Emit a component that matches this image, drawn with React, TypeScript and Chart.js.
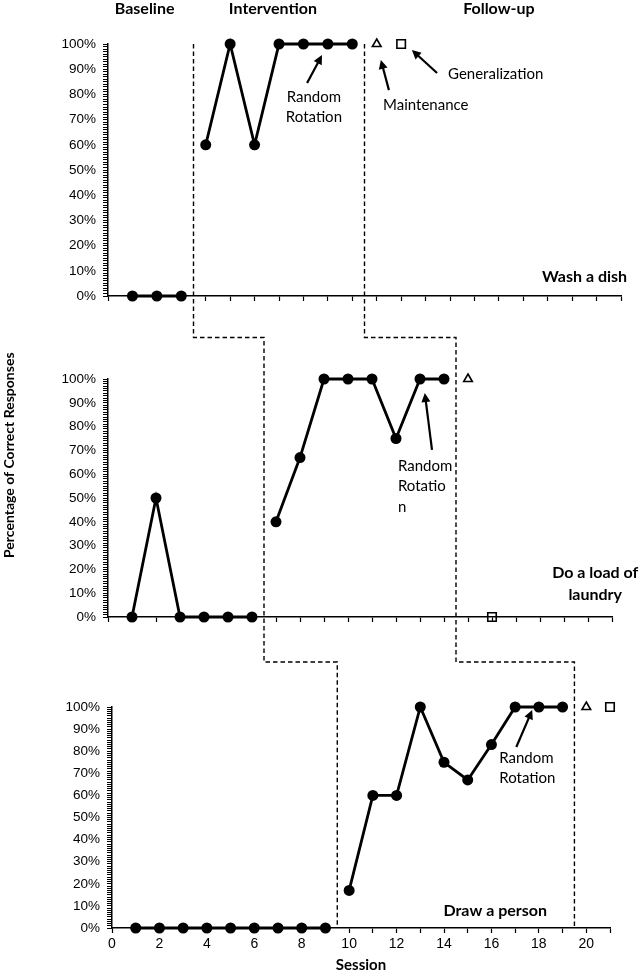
import React, { useEffect, useRef } from 'react';
import { Chart, registerables } from 'chart.js';

Chart.register(...registerables);

// ---------------- data ----------------
const xTickValues = [0, 1, 2, 3, 4, 5, 6, 7, 8, 9, 10, 11, 12, 13, 14, 15, 16, 17, 18, 19, 20, 21];
const xTickLabels = [0, 2, 4, 6, 8, 10, 12, 14, 16, 18, 20];
const yTickLabels = [0, 10, 20, 30, 40, 50, 60, 70, 80, 90, 100];

const dishBaselineSessions = [1, 2, 3];
const dishBaselineValues = [0, 0, 0];
const dishInterventionSessions = [4, 5, 6, 7, 8, 9, 10];
const dishInterventionValues = [60, 100, 60, 100, 100, 100, 100];
const dishMaintenanceSessions = [11];
const dishMaintenanceValues = [100];
const dishGeneralizationSessions = [12];
const dishGeneralizationValues = [100];

const laundryBaselineSessions = [1, 2, 3, 4, 5, 6];
const laundryBaselineValues = [0, 50, 0, 0, 0, 0];
const laundryInterventionSessions = [7, 8, 9, 10, 11, 12, 13, 14];
const laundryInterventionValues = [40, 67, 100, 100, 100, 75, 100, 100];
const laundryMaintenanceSessions = [15];
const laundryMaintenanceValues = [100];
const laundryGeneralizationSessions = [16];
const laundryGeneralizationValues = [0];

const personBaselineSessions = [1, 2, 3, 4, 5, 6, 7, 8, 9];
const personBaselineValues = [0, 0, 0, 0, 0, 0, 0, 0, 0];
const personInterventionSessions = [10, 11, 12, 13, 14, 15, 16, 17, 18, 19];
const personInterventionValues = [17, 60, 60, 100, 75, 67, 83, 100, 100, 100];
const personMaintenanceSessions = [20];
const personMaintenanceValues = [100];
const personGeneralizationSessions = [21];
const personGeneralizationValues = [100];

// phase change lines (between sessions)
const dishPhaseChanges = [3.5, 10.5];
const laundryPhaseChanges = [6.5, 14.5];
const personPhaseChanges = [9.5, 19.5];

const phaseHeaders = ['Baseline', 'Intervention', 'Follow-up'];

// ---------------- layout / style ----------------
const W = 643;
const H = 980;
const TICK_FONT = { family: '"Liberation Sans", Arial, sans-serif', size: 13.5 };
const ANN_FONT = '15px Lato, "Open Sans", sans-serif';
const BOLD_FONT = 'bold 16px Lato, "Open Sans", sans-serif';

type TextAnn = { text: string; x: number; y: number; align: CanvasTextAlign; bold?: boolean };
type ArrowAnn = { x1: number; y1: number; x2: number; y2: number };

interface PanelDef {
  area: { left: number; top: number; right: number; bottom: number };
  baseS: number[]; baseV: number[];
  intS: number[]; intV: number[];
  maintS: number[]; maintV: number[];
  genS: number[]; genV: number[];
  xLabels: boolean;
  xAxisHeight: number;
  texts: TextAnn[];
  arrows: ArrowAnn[];
}

const panels: PanelDef[] = [
  {
    area: { left: 108, top: 44, right: 621, bottom: 296 },
    baseS: dishBaselineSessions, baseV: dishBaselineValues,
    intS: dishInterventionSessions, intV: dishInterventionValues,
    maintS: dishMaintenanceSessions, maintV: dishMaintenanceValues,
    genS: dishGeneralizationSessions, genV: dishGeneralizationValues,
    xLabels: false, xAxisHeight: 10,
    texts: [
      { text: 'Random', x: 8.43, y: 79, align: 'center' },
      { text: 'Rotation', x: 8.43, y: 71, align: 'center' },
      { text: 'Maintenance', x: 11.26, y: 75.8, align: 'left' },
      { text: 'Generalization', x: 13.92, y: 88.1, align: 'left' },
      { text: 'Wash a dish', x: 21.25, y: 7.5, align: 'right', bold: true },
    ],
    arrows: [
      { x1: 8.15, y1: 84.5, x2: 8.76, y2: 95.6 },
      { x1: 11.5, y1: 81.7, x2: 11.17, y2: 93.7 },
      { x1: 13.47, y1: 88.5, x2: 12.44, y2: 97.6 },
    ],
  },
  {
    area: { left: 108, top: 379, right: 612, bottom: 617 },
    baseS: laundryBaselineSessions, baseV: laundryBaselineValues,
    intS: laundryInterventionSessions, intV: laundryInterventionValues,
    maintS: laundryMaintenanceSessions, maintV: laundryMaintenanceValues,
    genS: laundryGeneralizationSessions, genV: laundryGeneralizationValues,
    xLabels: false, xAxisHeight: 10,
    texts: [
      { text: 'Random', x: 12.08, y: 63.4, align: 'left' },
      { text: 'Rotatio', x: 12.08, y: 55.0, align: 'left' },
      { text: 'n', x: 12.08, y: 46.2, align: 'left' },
      { text: 'Do a load of', x: 20.3, y: 18.5, align: 'center', bold: true },
      { text: 'laundry', x: 20.3, y: 9.2, align: 'center', bold: true },
    ],
    arrows: [{ x1: 13.5, y1: 70.2, x2: 13.2, y2: 94.1 }],
  },
  {
    area: { left: 112, top: 707, right: 610, bottom: 928 },
    baseS: personBaselineSessions, baseV: personBaselineValues,
    intS: personInterventionSessions, intV: personInterventionValues,
    maintS: personMaintenanceSessions, maintV: personMaintenanceValues,
    genS: personGeneralizationSessions, genV: personGeneralizationValues,
    xLabels: true, xAxisHeight: 52,
    texts: [
      { text: 'Random', x: 16.33, y: 76.9, align: 'left' },
      { text: 'Rotation', x: 16.33, y: 67.9, align: 'left' },
      { text: 'Draw a person', x: 16.16, y: 7.7, align: 'center', bold: true },
    ],
    arrows: [{ x1: 17.05, y1: 81.9, x2: 17.72, y2: 98.6 }],
  },
];

const Y_AXIS_W = 60;

const pts = (xs: number[], ys: number[]) => xs.map((x, i) => ({ x, y: ys[i] }));

function drawArrow(ctx: CanvasRenderingContext2D, x1: number, y1: number, x2: number, y2: number) {
  const ang = Math.atan2(y2 - y1, x2 - x1);
  const head = 9;
  const hw = 4.5;
  const c = Math.cos(ang);
  const s = Math.sin(ang);
  ctx.beginPath();
  ctx.moveTo(x1, y1);
  ctx.lineTo(x2 - head * 0.7 * c, y2 - head * 0.7 * s);
  ctx.lineWidth = 2.2;
  ctx.strokeStyle = '#000';
  ctx.stroke();
  ctx.beginPath();
  ctx.moveTo(x2, y2);
  ctx.lineTo(x2 - head * c + hw * s, y2 - head * s - hw * c);
  ctx.lineTo(x2 - head * c - hw * s, y2 - head * s + hw * c);
  ctx.closePath();
  ctx.fillStyle = '#000';
  ctx.fill();
}

function makeConfig(p: PanelDef, extraDraw?: (chart: any) => void): any {
  const lineDs = (data: any[]) => ({
    data,
    borderColor: '#000',
    backgroundColor: '#000',
    borderWidth: 2.8,
    pointRadius: 5.5,
    pointStyle: 'circle',
    pointBackgroundColor: '#000',
    pointBorderColor: '#000',
    pointBorderWidth: 0,
    tension: 0,
    clip: false,
  });
  const yTicks: { value: number }[] = [];
  for (let v = 0; v <= 100; v += 1) yTicks.push({ value: v });

  return {
    type: 'line',
    data: {
      datasets: [
        lineDs(pts(p.baseS, p.baseV)),
        lineDs(pts(p.intS, p.intV)),
        {
          data: pts(p.maintS, p.maintV),
          showLine: false,
          pointStyle: 'triangle',
          pointRadius: 5,
          pointBorderWidth: 1.6,
          pointBackgroundColor: 'rgba(0,0,0,0)',
          pointBorderColor: '#000',
          clip: false,
        },
        {
          data: pts(p.genS, p.genV),
          showLine: false,
          pointStyle: 'rect',
          pointRadius: 6,
          pointBorderWidth: 1.6,
          pointBackgroundColor: 'rgba(0,0,0,0)',
          pointBorderColor: '#000',
          clip: false,
        },
      ],
    },
    options: {
      responsive: false,
      animation: false,
      events: [],
      layout: {
        padding: {
          left: p.area.left - Y_AXIS_W,
          top: p.area.top,
          right: W - p.area.right,
          bottom: H - p.area.bottom - p.xAxisHeight,
        },
      },
      plugins: { legend: { display: false }, tooltip: { enabled: false } },
      scales: {
        x: {
          type: 'linear',
          min: 0,
          max: 21,
          afterFit: (s: any) => { s.height = p.xAxisHeight; },
          afterBuildTicks: (s: any) => { s.ticks = xTickValues.map((v) => ({ value: v })); },
          ticks: {
            autoSkip: false,
            maxRotation: 0,
            padding: 3,
            color: '#000',
            font: { family: TICK_FONT.family, size: 14 },
            callback: (v: any) => (p.xLabels && xTickLabels.includes(Number(v)) ? String(v) : ''),
          },
          grid: { drawOnChartArea: false, tickLength: 5, color: '#000', tickWidth: 1.2 },
          border: { color: '#000', width: 1.5 },
          title: {
            display: p.xLabels,
            text: 'Session',
            color: '#000',
            font: { family: 'Lato, "Open Sans", sans-serif', size: 15, weight: 'bold' },
            padding: { top: 4, bottom: 6 },
          },
        },
        y: {
          type: 'linear',
          min: 0,
          max: 100,
          afterFit: (s: any) => { s.width = Y_AXIS_W; },
          afterBuildTicks: (s: any) => { s.ticks = yTicks.map((t) => ({ value: t.value })); },
          ticks: {
            autoSkip: false,
            padding: 7,
            color: '#000',
            font: TICK_FONT,
            callback: (v: any) => (yTickLabels.includes(Number(v)) ? `${v}%` : ''),
          },
          grid: { drawOnChartArea: false, tickLength: 5, color: '#000', tickWidth: 1 },
          border: { color: '#000', width: 1.5 },
        },
      },
    },
    plugins: [
      {
        id: 'decor',
        afterDatasetsDraw(chart: any) {
          const ctx: CanvasRenderingContext2D = chart.ctx;
          const xs = chart.scales.x;
          const ys = chart.scales.y;
          ctx.save();
          ctx.fillStyle = '#000';
          ctx.textBaseline = 'middle';
          for (const t of p.texts) {
            ctx.font = t.bold ? BOLD_FONT : ANN_FONT;
            ctx.textAlign = t.align;
            ctx.fillText(t.text, xs.getPixelForValue(t.x), ys.getPixelForValue(t.y));
          }
          for (const a of p.arrows) {
            drawArrow(
              ctx,
              xs.getPixelForValue(a.x1), ys.getPixelForValue(a.y1),
              xs.getPixelForValue(a.x2), ys.getPixelForValue(a.y2)
            );
          }
          ctx.restore();
          if (extraDraw) extraDraw(chart);
        },
      },
    ],
  };
}

export default function App() {
  const r1 = useRef<HTMLCanvasElement>(null);
  const r2 = useRef<HTMLCanvasElement>(null);
  const r3 = useRef<HTMLCanvasElement>(null);

  useEffect(() => {
    const c1 = new Chart(r1.current as HTMLCanvasElement, makeConfig(panels[0]));
    const c2 = new Chart(r2.current as HTMLCanvasElement, makeConfig(panels[1]));

    const overlay = (c3: any) => {
      const ctx: CanvasRenderingContext2D = c3.ctx;
      const a1 = c1.chartArea;
      const a2 = c2.chartArea;
      const a3 = c3.chartArea;
      const mid12 = (a1.bottom + a2.top) / 2;
      const mid23 = (a2.bottom + a3.top) / 2;
      ctx.save();
      ctx.strokeStyle = '#000';
      ctx.lineWidth = 1.4;
      ctx.setLineDash([4.5, 3]);
      for (let i = 0; i < 2; i++) {
        const x1 = c1.scales.x.getPixelForValue(dishPhaseChanges[i]);
        const x2 = c2.scales.x.getPixelForValue(laundryPhaseChanges[i]);
        const x3 = c3.scales.x.getPixelForValue(personPhaseChanges[i]);
        ctx.beginPath();
        ctx.moveTo(x1, a1.top);
        ctx.lineTo(x1, mid12);
        ctx.lineTo(x2, mid12);
        ctx.lineTo(x2, mid23);
        ctx.lineTo(x3, mid23);
        ctx.lineTo(x3, a3.bottom);
        ctx.stroke();
      }
      ctx.setLineDash([]);

      // phase headers
      ctx.fillStyle = '#000';
      ctx.font = BOLD_FONT;
      ctx.textAlign = 'center';
      ctx.textBaseline = 'middle';
      const hx = [1.5, 6.75, 16.0];
      phaseHeaders.forEach((h, i) => {
        ctx.fillText(h, c1.scales.x.getPixelForValue(hx[i]), a1.top - 35);
      });

      // y-axis title
      ctx.save();
      ctx.translate(9, 558);
      ctx.rotate(-Math.PI / 2);
      ctx.font = 'bold 14px Lato, "Open Sans", sans-serif';
      ctx.textAlign = 'left';
      ctx.fillText('Percentage of Correct Responses', 0, 0);
      ctx.restore();
      ctx.restore();
    };

    const c3 = new Chart(r3.current as HTMLCanvasElement, makeConfig(panels[2], overlay));
    return () => {
      c1.destroy();
      c2.destroy();
      c3.destroy();
    };
  }, []);

  const cStyle: React.CSSProperties = { position: 'absolute', left: 0, top: 0, width: W, height: H, display: 'block' };
  return (
    <div style={{ position: 'absolute', left: 0, top: 0, width: W, height: H, background: '#fff' }}>
      <canvas ref={r1} width={W} height={H} style={cStyle} />
      <canvas ref={r2} width={W} height={H} style={cStyle} />
      <canvas ref={r3} width={W} height={H} style={cStyle} />
    </div>
  );
}
